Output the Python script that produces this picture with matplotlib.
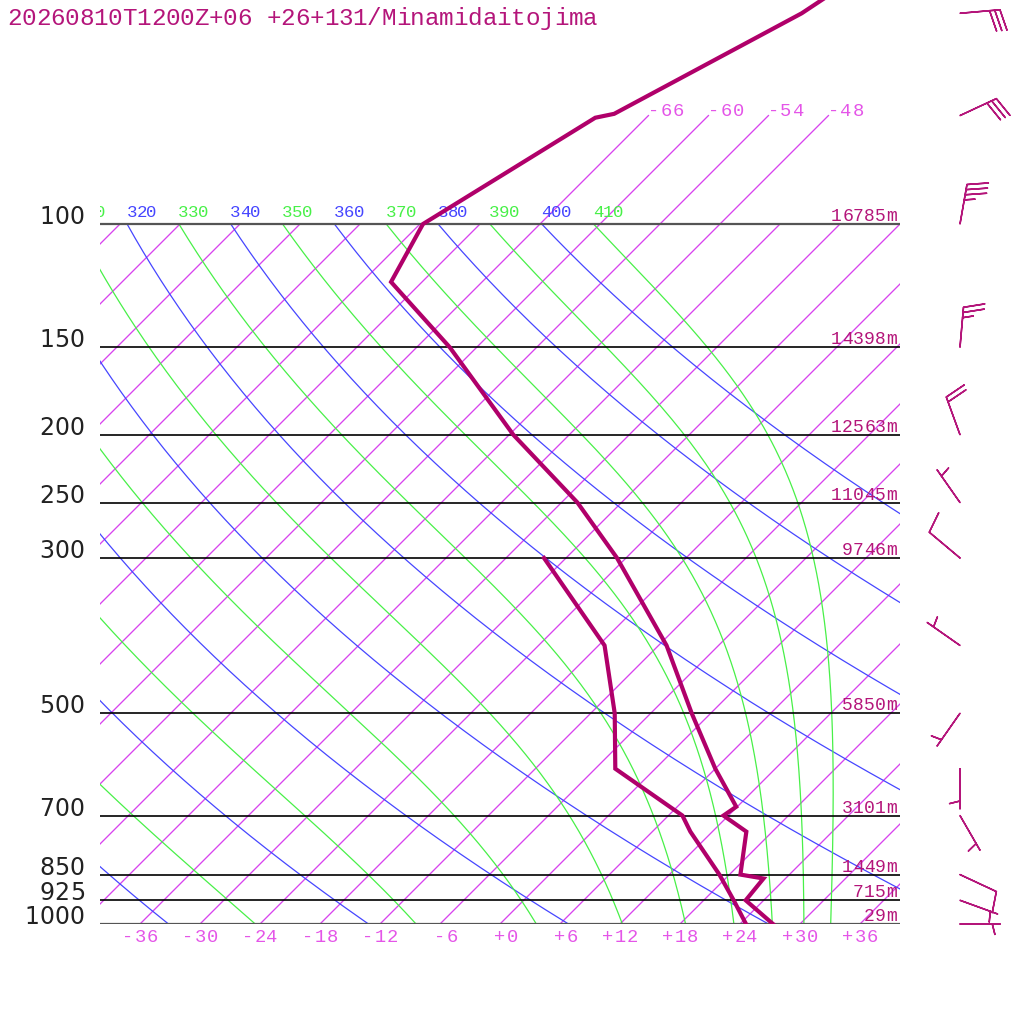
import numpy as np
import matplotlib
matplotlib.use("Agg")
import matplotlib.pyplot as plt
from matplotlib.transforms import Affine2D

# sounding data (hPa, degC)
temp_p = [1000, 925, 861, 850, 738, 700, 680, 600, 500, 400, 300, 250, 200, 150, 121, 100, 70.5, 69.6, 50, 30]
temp_t = [27.3, 22.2, 21.8, 19.1, 15.4, 11.5, 11.9, 6.0, -1.9, -11.2, -24.9, -34.4, -47.6, -62.7, -75.1, -77.7, -71.1, -69.6, -60.9, -53.0]
dew_p = [1000, 925, 850, 738, 700, 600, 500, 400, 300]
dew_t = [24.6, 21.0, 17.0, 9.8, 7.4, -4.0, -9.6, -17.4, -32.2]

# standard levels and heights
lev_p = [100, 150, 200, 250, 300, 500, 700, 850, 925, 1000]
lev_label = ['100', '150', '200', '250', '300', '500', '700', '850', '925', '1000']
lev_height = ['16785m', '14398m', '12563m', '11045m', '9746m', '5850m', '3101m', '1449m', '715m', '29m']

# winds (direction from, knots)
wind_p = [50, 70, 100, 150, 200, 250, 300, 400, 500, 600, 700, 850, 925, 1000]
wind_dir = [85, 65, 10, 5, 340, 325, 310, 305, 215, 180, 150, 115, 110, 90]
wind_kt = [30, 30, 35, 25, 20, 5, 10, 5, 5, 5, 5, 10, 5, 5]

# grid
iso_t = np.arange(-108, 42, 6)
iso_top = [-66, -60, -54, -48]
bottom_t = np.arange(-36, 42, 6)
dry_theta = np.arange(240, 401, 20)
moist_theta = np.arange(250, 411, 20)
label_theta = np.arange(310, 411, 10)

title = '20260810T1200Z+06 +26+131/Minamidaitojima'

PROFILE = '#b0006a'
DARKMAG = '#b4157a'
ISO = '#d844ee'
ISO_LBL = '#e455e8'
BLUE = '#4646ff'
GREEN = '#48f048'
MONO = 'Liberation Mono'

Rd, cp, Lv, eps = 287.04, 1005.7, 2.501e6, 0.622
kappa = Rd / cp


def esat(tk):
    return 6.112 * np.exp(17.67 * (tk - 273.15) / (tk - 29.65))


def moist_rate(tk, p):
    es = esat(tk)
    rs = eps * es / (p - es)
    return (Rd * tk + Lv * rs) / (cp + Lv * Lv * rs * eps / (Rd * tk * tk)) / p


def spaced_text(target, x, y, s, base, pitch, ha='left', dx=0.0, dy=0.0, xmin=None, **kw):
    # draw a string one glyph per fixed-width cell
    n = len(s)
    start = {'left': 0.0, 'center': -n * pitch / 2.0, 'right': -n * pitch}[ha]
    x0 = base.transform((x, y))[0]
    for i, ch in enumerate(s):
        if ch == ' ':
            continue
        cx = dx + start + (i + 0.5) * pitch
        if xmin is not None and x0 + cx + pitch / 2 < xmin:
            continue
        off = Affine2D().translate(cx, dy)
        target.text(x, y, ch, transform=base + off, ha='center', va='baseline', **kw)


W = 1024
fig = plt.figure(figsize=(10.24, 10.24), dpi=100)
fig.patch.set_facecolor('white')

left_px, bottom_px, width_px = 100, 100, 800
p_top = 1000 * 10 ** (-924 / 700.0)
ax = fig.add_axes([left_px / W, bottom_px / W, width_px / W, 924 / W])
ax.set_yscale('log')
ax.set_xlim(-40, 40)
ax.set_ylim(1000, p_top)
ax.set_axis_off()

# 45 degree skew in display space, anchored at 1000 hPa
skew = ax.transData + Affine2D().translate(0, -bottom_px).skew_deg(45, 0).translate(0, bottom_px)

# isotherms
for t in iso_t:
    ax.plot([t, t], [1000, 100], color=ISO, lw=0.95, transform=skew, zorder=2)
for t in iso_top:
    ax.plot([t, t], [100, 70], color=ISO, lw=0.95, transform=skew, zorder=2)
    spaced_text(ax, t, 70, '%d' % t, skew, 12.3, ha='left', dx=-1,
                family=MONO, fontsize=13.5, color=ISO_LBL)

# dry adiabats
p_d = np.geomspace(100, 1000, 200)
for th in dry_theta:
    ax.plot(th * (p_d / 1000.0) ** kappa - 273.15, p_d, color=BLUE, lw=0.9,
            transform=skew, zorder=2)

# moist adiabats, integrated down from 100 hPa
p_m = np.linspace(100, 1000, 361)
tk = moist_theta * 0.1 ** kappa
rows = [tk.copy()]
for i in range(len(p_m) - 1):
    p0, h = p_m[i], p_m[i + 1] - p_m[i]
    k1 = moist_rate(tk, p0)
    k2 = moist_rate(tk + h / 2 * k1, p0 + h / 2)
    k3 = moist_rate(tk + h / 2 * k2, p0 + h / 2)
    k4 = moist_rate(tk + h * k3, p0 + h)
    tk = tk + h / 6 * (k1 + 2 * k2 + 2 * k3 + k4)
    rows.append(tk.copy())
moist_t = np.array(rows) - 273.15
for j, th in enumerate(moist_theta):
    ax.plot(moist_t[:, j], p_m, color=GREEN, lw=0.9, transform=skew, zorder=2)

# adiabat labels at 100 hPa
for th in label_theta:
    col = BLUE if (th // 10) % 2 == 0 else GREEN
    t100 = th * 0.1 ** kappa - 273.15
    spaced_text(ax, t100, 100, str(th), skew, 10.0, ha='left', dx=-0.5, dy=7,
                xmin=left_px, family=MONO, fontsize=12.5, color=col, clip_on=True)

# pressure lines
for p in lev_p:
    edge = p in (100, 1000)
    ax.plot([-40, 40], [p, p], color='#555555' if edge else 'black',
            lw=1.6 if edge else 1.2, zorder=3)

for p, lab, hgt in zip(lev_p, lev_label, lev_height):
    spaced_text(ax, -41.5, p, lab, ax.transData, 15.3, ha='right',
                family='DejaVu Sans', fontsize=17, color='#222222')
    spaced_text(ax, 39.7, p, hgt, ax.transData, 11.0, ha='right', dy=3,
                family=MONO, fontsize=13, color=DARKMAG)

# temperature labels along the bottom
for t in bottom_t:
    lab = ('%+d' % t).rjust(3)
    spaced_text(ax, t, 1000, lab, skew, 12.0, ha='center', dy=-18,
                family=MONO, fontsize=13.5, color=ISO_LBL)

# profiles
ax.plot(temp_t, temp_p, color=PROFILE, lw=3.0, transform=skew, zorder=5,
        solid_joinstyle='miter')
ax.plot(dew_t, dew_p, color=PROFILE, lw=3.0, transform=skew, zorder=5,
        solid_joinstyle='miter')

# wind barbs
wd = np.radians(wind_dir)
spd = np.array(wind_kt, dtype=float)
u = -spd * np.sin(wd)
v = -spd * np.cos(wd)
ax.barbs(np.full(len(wind_p), 46.0), wind_p, u, v, length=7.6, pivot='tip',
         sizes=dict(spacing=0.13, height=0.52, width=0.26),
         barbcolor=DARKMAG, linewidth=1.1, clip_on=False, zorder=6)

# title in pixel coordinates
pix = Affine2D().scale(1, -1).translate(0, W)
spaced_text(fig, 7, 25, title, pix, 14.4, ha='left',
            family=MONO, fontsize=17.5, color=DARKMAG)

fig.savefig('out.png', dpi=100)
